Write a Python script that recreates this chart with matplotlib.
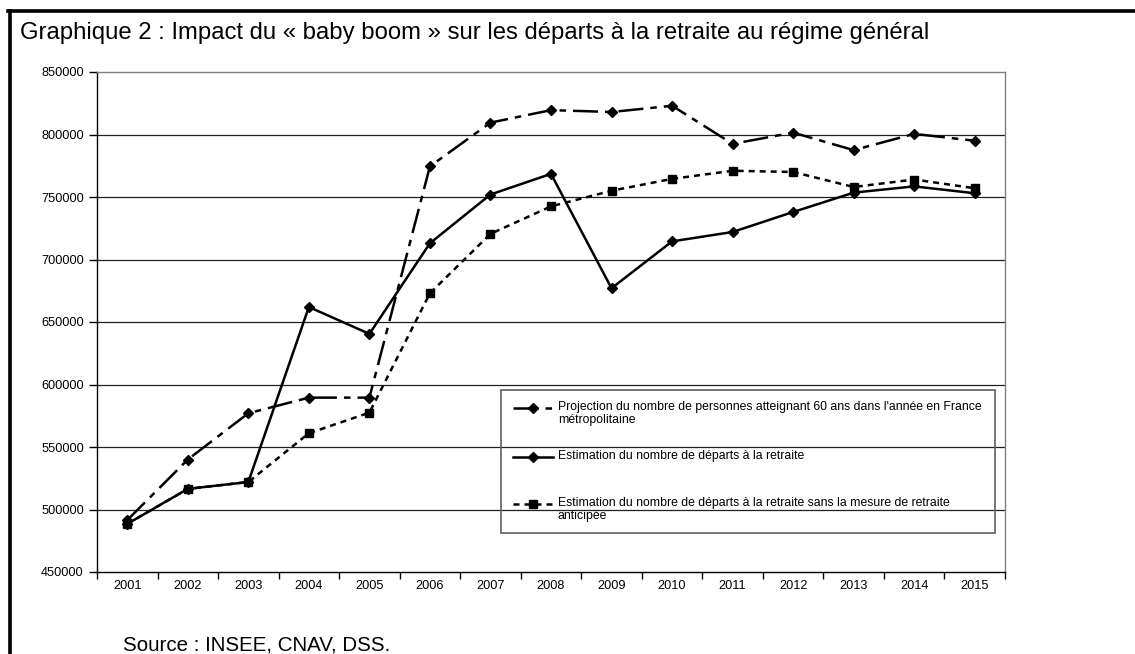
import matplotlib.pyplot as plt
from matplotlib.lines import Line2D
from matplotlib.patches import Rectangle

plt.rcParams['font.family'] = ['Liberation Sans', 'DejaVu Sans']

# Departures to retirement, régime général
years = ['2001', '2002', '2003', '2004', '2005', '2006', '2007', '2008',
         '2009', '2010', '2011', '2012', '2013', '2014', '2015']
projection_60_ans = [491500, 540000, 577000, 589500, 589500, 774500, 809500, 819500,
                     818000, 823000, 792500, 801500, 787500, 800500, 795000]
departs = [488500, 516500, 522000, 662000, 640500, 713000, 752000, 768500,
           677000, 714500, 722000, 738000, 753500, 758500, 753000]
departs_sans_ra = [488500, 516500, 522000, 561000, 577500, 673000, 720500, 742500,
                   755000, 764500, 771000, 770000, 758000, 764000, 757000]

labels = ["Projection du nombre de personnes atteignant 60 ans dans l'année en France\nmétropolitaine",
          "Estimation du nombre de départs à la retraite",
          "Estimation du nombre de départs à la retraite sans la mesure de retraite\nanticipée"]
y_ticks = list(range(450000, 850001, 50000))

W, H = 1135, 654
fig = plt.figure(figsize=(W / 100, H / 100), dpi=100)
ax = fig.add_axes([97 / W, 1 - 572 / H, 908 / W, 500 / H])

styles = [
    dict(color='black', lw=1.8, dashes=(10, 2.8, 2.6, 2.8), marker='D', ms=5.2),
    dict(color='black', lw=1.8, linestyle='-', marker='D', ms=5.2),
    dict(color='black', lw=1.8, dashes=(2.4, 2.0), marker='s', ms=5.2),
]
series = [projection_60_ans, departs, departs_sans_ra]

x = range(len(years))
for values, st in zip(series, styles):
    ax.plot(x, values, zorder=3, **st)

ax.set_xlim(-0.5, len(years) - 0.5)
ax.set_ylim(450000, 850000)
ax.set_yticks(y_ticks)
ax.set_yticklabels([str(v) for v in y_ticks], fontsize=9.2)
ax.set_xticks(list(x))
ax.set_xticklabels(years, fontsize=9.2)
ax.tick_params(axis='x', length=0, pad=6)
ax.set_xticks([i - 0.5 for i in range(len(years) + 1)], minor=True)
ax.tick_params(axis='x', which='minor', length=5, width=1, direction='out')
ax.tick_params(axis='y', length=6, width=1, direction='out', pad=3.5)

for v in y_ticks[1:-1]:
    ax.axhline(v, color='#202020', lw=0.9, zorder=1)

for side in ['top', 'right']:
    ax.spines[side].set_color('#808080')
    ax.spines[side].set_linewidth(1)
for side in ['left', 'bottom']:
    ax.spines[side].set_color('black')
    ax.spines[side].set_linewidth(1)

# legend box drawn by hand in pixel positions
def fx(px):
    return px / W

def fy(py):
    return 1 - py / H

fig.add_artist(Rectangle((fx(501), fy(533)), fx(995) - fx(501), fy(390) - fy(533),
                         transform=fig.transFigure, fill=False,
                         edgecolor='#606060', lw=1.2))
rows = [408, 457, 504]
for row, st, lab in zip(rows, styles, labels):
    line_st = {k: v for k, v in st.items() if k not in ('marker', 'ms')}
    fig.add_artist(Line2D([fx(513), fx(553)], [fy(row), fy(row)],
                          transform=fig.transFigure, **line_st))
    fig.add_artist(Line2D([fx(533)], [fy(row)], transform=fig.transFigure,
                          color='black', marker=st['marker'], ms=st['ms'],
                          linestyle='none'))
    fig.text(fx(558), fy(row - 7), lab, fontsize=8.8, va='top', ha='left',
             linespacing=1.1)

# outer frame
fig.add_artist(Line2D([fx(8), fx(1135)], [fy(11), fy(11)], color='black', lw=2.6,
                      transform=fig.transFigure))
fig.add_artist(Line2D([fx(9.5), fx(9.5)], [fy(11), fy(654)], color='black', lw=2.6,
                      transform=fig.transFigure))

fig.text(fx(20), fy(33),
         'Graphique 2 : Impact du « baby boom » sur les départs à la retraite au régime général',
         fontsize=17.2, va='center', ha='left')
fig.text(fx(123), fy(645), 'Source : INSEE, CNAV, DSS.', fontsize=14.8,
         va='center', ha='left')

fig.savefig('out.png', dpi=100)
